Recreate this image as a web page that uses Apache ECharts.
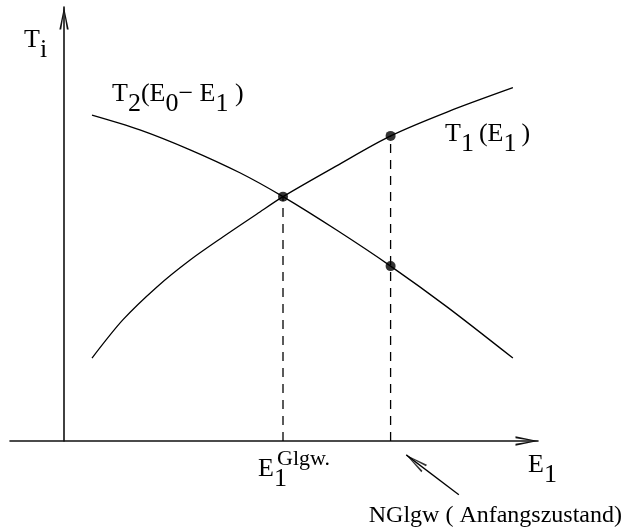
<!DOCTYPE html>
<html>
<head>
<meta charset="utf-8">
<script src="https://cdn.jsdelivr.net/npm/echarts@6/dist/echarts.min.js"></script>
<style>
  html, body { margin: 0; padding: 0; background: #fff; }
  #chart { width: 626px; height: 531px; }
</style>
</head>
<body>
<div id="chart"></div>
<script>
// Curve samples as [E1, T] pairs (arbitrary units)
const t1Curve = [[5.9, 19.1], [12.4, 27.9], [19.6, 35.5], [26.6, 41.7], [33.5, 47.0], [40.7, 52.3],
                 [46.2, 56.3], [57.5, 63.4], [68.9, 70.3], [80.8, 75.8], [94.7, 81.4]];
const t2Curve = [[5.9, 75.1], [16.0, 71.7], [26.6, 67.1], [37.1, 61.8], [46.2, 56.3],
                 [57.5, 48.6], [68.9, 40.3], [80.8, 30.9], [94.7, 19.1]];
// Equilibrium point and the non-equilibrium start state on both curves
const markedPoints = [[46.2, 56.3], [68.9, 70.3], [68.9, 40.3]];
// Vertical guides dropped from the marked points to the E1 axis
const dropLines = [[[46.2, 0], [46.2, 56.3]], [[68.9, 0], [68.9, 70.3]]];
// Pointer from the "NGlgw" note up to the start state on the axis (tail, tip)
const noteArrow = [[83.3, -12.4], [72.2, -3.2]];

// Open chevron head; an invisible point above keeps the apex at the symbol centre
const chevron = 'path://M5,-24 L5.01,-24 Z M5,0 L10,24 L8,24 L5,5 L2,24 L0,24 Z';

const FONT = 'Liberation Serif';
const LH = 46;
function richSet(size) {
  return {
    n: { fontFamily: FONT, fontSize: size, lineHeight: LH, color: '#000' },
    s: { fontFamily: FONT, fontSize: size, lineHeight: LH, color: '#000', verticalAlign: 'bottom' },
    sg: { fontFamily: FONT, fontSize: size, lineHeight: LH, color: '#000', verticalAlign: 'bottom',
          padding: [0, 5, 0, 0] }
  };
}
function label(text, size, pos) {
  return Object.assign({ type: 'text', z: 100, style: { text: text, rich: richSet(size) } }, pos);
}

const chart = echarts.init(document.getElementById('chart'), null, { renderer: 'canvas' });

const curveStyle = { color: '#000', width: 1.3 };
const axisStyle = { color: '#111', width: 1.6 };

const option = {
  animation: false,
  backgroundColor: '#fff',
  grid: { left: 10, right: 88, top: 7, bottom: 90, containLabel: false },
  xAxis: {
    type: 'value', min: -11.4, max: 100,
    axisLine: { onZero: false, lineStyle: axisStyle, symbol: ['none', chevron], symbolSize: [9.4, 45] },
    axisTick: { show: false }, axisLabel: { show: false }, splitLine: { show: false }
  },
  yAxis: {
    type: 'value', min: 0, max: 100,
    axisLine: { onZero: true, lineStyle: axisStyle, symbol: ['none', chevron], symbolSize: [9.4, 45] },
    axisTick: { show: false }, axisLabel: { show: false }, splitLine: { show: false }
  },
  series: [
    { type: 'line', name: 'T1', data: t1Curve, smooth: 0.3, symbol: 'none', lineStyle: curveStyle },
    { type: 'line', name: 'T2', data: t2Curve, smooth: 0.3, symbol: 'none', lineStyle: curveStyle }
  ].concat(dropLines.map(function (seg) {
    return { type: 'line', data: seg, symbol: 'none',
             lineStyle: { color: '#000', width: 1.3, type: [9, 7] } };
  })).concat([
    { type: 'scatter', data: markedPoints, symbol: 'circle', symbolSize: 10,
      itemStyle: { color: '#000' }, z: 5 },
    { type: 'line', id: 'noteShaft', data: noteArrow, symbol: 'none', clip: false,
      lineStyle: { color: '#000', width: 1.3 } }
  ]),
  // Axis names and curve labels
  graphic: [
    label('{n|T}{s|i}', 26, { left: 24, top: 27 }),
    label('{n|T}{s|2}{n|(E}{s|0}{n|− E}{s|1}{n| )}', 26, { left: 112, top: 81 }),
    label('{n|T}{sg|1}{n|(E}{sg|1}{n|)}', 26, { left: 445, top: 121 }),
    label('{n|E}{s|1}', 26, { left: 258, top: 456 }),
    { type: 'text', z: 100, left: 277, top: 448,
      style: { text: 'Glgw.', fontFamily: FONT, fontSize: 22, fill: '#000' } },
    label('{n|E}{s|1}', 26, { left: 528, top: 452 }),
    label('{n|NGlgw ( Anfangszustand)}', 24, { right: 4, top: 504 })
  ]
};

chart.setOption(option);

// Head of the pointer, turned along the tail-to-tip direction in screen space
const a = chart.convertToPixel({ gridIndex: 0 }, noteArrow[0]);
const b = chart.convertToPixel({ gridIndex: 0 }, noteArrow[1]);
const rot = Math.atan2(-(b[0] - a[0]), -(b[1] - a[1])) * 180 / Math.PI;
chart.setOption({
  series: option.series.concat([{
    type: 'scatter', id: 'noteHead', data: [noteArrow[1]], clip: false,
    symbol: chevron, symbolSize: [9.4, 45], symbolRotate: rot,
    itemStyle: { color: '#000' }, z: 6
  }])
});
</script>
</body>
</html>
